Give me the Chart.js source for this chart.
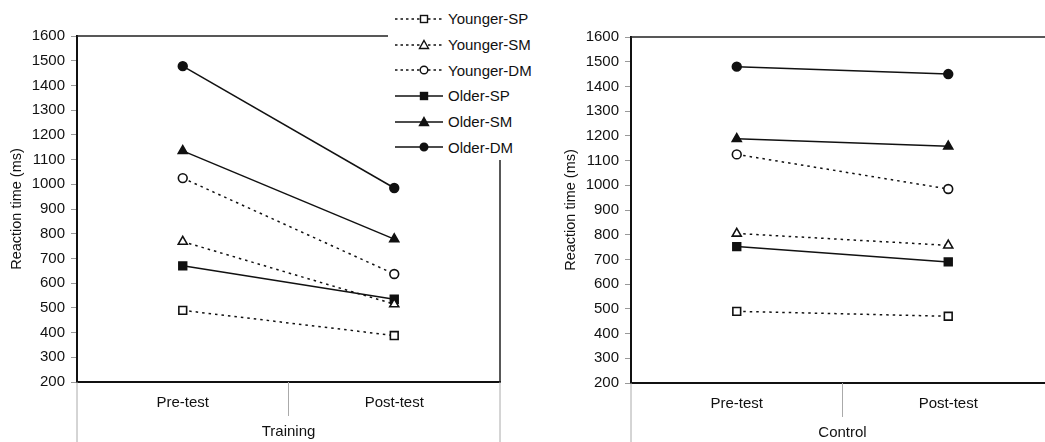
<!DOCTYPE html>
<html>
<head>
<meta charset="utf-8">
<script src="https://cdn.jsdelivr.net/npm/chart.js@4/dist/chart.umd.min.js"></script>
<style>
  html, body { margin: 0; padding: 0; background: #fff; }
  body { width: 1045px; height: 442px; position: relative; overflow: hidden; font-family: "Liberation Sans", Arial, sans-serif; }
  .box { position: absolute; width: 520px; height: 442px; }
  #legend { position: absolute; left: 388px; top: 0; width: 152px; height: 160px; background: #fff; padding-top: 6px; box-sizing: border-box; }
  .row { height: 25.7px; display: flex; align-items: center; font-size: 15px; color: #111; }
  .row svg { margin-left: 5px; margin-right: 5px; }
</style>
</head>
<body>
<div class="box" style="left:0;top:0"><canvas id="trainChart"></canvas></div>
<div id="legend"></div>
<div class="box" style="left:554px;top:1px"><canvas id="controlChart"></canvas></div>

<script>
// categories and series
const phases = ['Pre-test', 'Post-test'];
const seriesNames = ['Younger-SP', 'Younger-SM', 'Younger-DM', 'Older-SP', 'Older-SM', 'Older-DM'];

// reaction times (ms), same order as seriesNames
const trainingValues = [
  [490, 388],
  [768, 515],
  [1025, 637],
  [670, 535],
  [1135, 778],
  [1478, 985]
];
const controlValues = [
  [490, 470],
  [805, 757],
  [1125, 985],
  [752, 690],
  [1188, 1158],
  [1480, 1450]
];

const yMin = 200, yMax = 1600, yStep = 100;

// marker look for each series
const markerStyle = ['rect', 'triangle', 'circle', 'rect', 'triangle', 'circle'];
const markerSize = { rect: 5.5, triangle: 5.2, circle: 4.4 };

function isYounger(i) { return seriesNames[i].indexOf('Younger') === 0; }

function makeDatasets(values) {
  return values.map((v, i) => ({
    label: seriesNames[i],
    data: v,
    borderColor: '#111',
    borderWidth: 1.5,
    borderDash: isYounger(i) ? [2.5, 4] : [],
    pointStyle: markerStyle[i],
    pointRadius: markerSize[markerStyle[i]],
    pointBorderWidth: 1.6,
    pointBorderColor: '#111',
    pointBackgroundColor: isYounger(i) ? '#fff' : '#111',
    fill: false,
    tension: 0
  }));
}

// box round the plot and the dividers under the category axis
const framePlugin = {
  id: 'frame',
  afterDraw(chart) {
    const ctx = chart.ctx;
    const a = chart.chartArea;
    const x = chart.scales.x;
    const mid = (x.getPixelForTick(0) + x.getPixelForTick(1)) / 2;
    ctx.save();
    ctx.strokeStyle = '#222';
    ctx.lineWidth = 1.5;
    ctx.beginPath();
    ctx.moveTo(a.left, a.top);
    ctx.lineTo(a.right, a.top);
    ctx.lineTo(a.right, a.bottom);
    ctx.stroke();
    ctx.strokeStyle = '#aaa';
    ctx.lineWidth = 1;
    ctx.beginPath();
    ctx.moveTo(a.left, a.bottom);
    ctx.lineTo(a.left, chart.height);
    ctx.moveTo(a.right, a.bottom);
    ctx.lineTo(a.right, chart.height);
    ctx.moveTo(mid, a.bottom);
    ctx.lineTo(mid, a.bottom + 34);
    ctx.stroke();
    ctx.restore();
  }
};

Chart.defaults.font.family = '"Liberation Sans", Arial, sans-serif';
Chart.defaults.font.size = 15;
Chart.defaults.color = '#111';

function makeChart(id, values, group) {
  return new Chart(document.getElementById(id), {
    type: 'line',
    data: { labels: phases, datasets: makeDatasets(values) },
    options: {
      responsive: false,
      animation: false,
      devicePixelRatio: 1,
      layout: { padding: { left: 0, top: 36, right: 20, bottom: 0 } },
      plugins: { legend: { display: false }, tooltip: { enabled: false } },
      scales: {
        x: {
          type: 'category',
          offset: true,
          grid: { display: false, drawTicks: false },
          border: { display: true, color: '#111', width: 2 },
          ticks: { padding: 12, font: { size: 15 } },
          title: { display: true, text: group, font: { size: 15 }, padding: { top: 0, bottom: 1 } },
          afterFit(scale) { scale.height = 60; }
        },
        y: {
          min: yMin,
          max: yMax,
          ticks: { stepSize: yStep, padding: 6, font: { size: 15 }, callback: v => String(v) },
          grid: { drawOnChartArea: false, drawTicks: true, tickLength: 6, color: '#999' },
          border: { display: true, color: '#111', width: 2 },
          title: { display: true, text: 'Reaction time (ms)', font: { size: 14.5 }, padding: { top: 8, bottom: 0 } },
          afterFit(scale) { scale.width = 77; }
        }
      }
    },
    plugins: [framePlugin]
  });
}

document.getElementById('trainChart').width = 520;
document.getElementById('trainChart').height = 442;
document.getElementById('controlChart').width = 520;
document.getElementById('controlChart').height = 442;

makeChart('trainChart', trainingValues, 'Training');
makeChart('controlChart', controlValues, 'Control');

// legend drawn beside the left plot
function markerSvg(i) {
  const dash = isYounger(i) ? ' stroke-dasharray="2.5 3"' : '';
  const fillC = isYounger(i) ? '#fff' : '#111';
  let mark = '';
  if (markerStyle[i] === 'rect') {
    mark = '<rect x="27.5" y="3.5" width="7" height="7" fill="' + fillC + '" stroke="#111" stroke-width="1.4"/>';
  } else if (markerStyle[i] === 'triangle') {
    mark = '<polygon points="31,2.5 35.5,10.5 26.5,10.5" fill="' + fillC + '" stroke="#111" stroke-width="1.4"/>';
  } else {
    mark = '<circle cx="31" cy="7" r="3.8" fill="' + fillC + '" stroke="#111" stroke-width="1.4"/>';
  }
  return '<svg width="50" height="14" viewBox="0 0 50 14">' +
    '<line x1="2" y1="7" x2="50" y2="7" stroke="#111" stroke-width="1.5"' + dash + '/>' + mark + '</svg>';
}

const legend = document.getElementById('legend');
seriesNames.forEach((name, i) => {
  const row = document.createElement('div');
  row.className = 'row';
  row.innerHTML = markerSvg(i) + '<span>' + name + '</span>';
  legend.appendChild(row);
});
</script>
</body>
</html>
